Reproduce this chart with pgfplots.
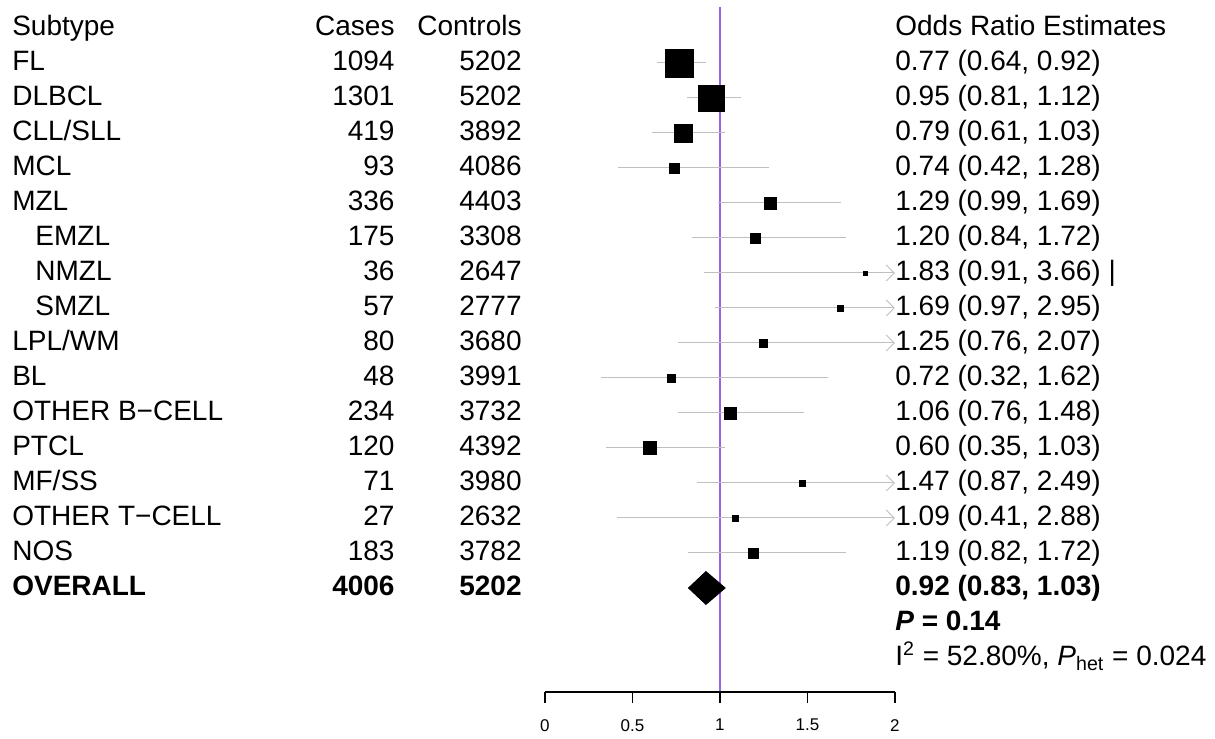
\documentclass[border=0pt]{standalone}
\usepackage{pgfplots}
\pgfplotsset{compat=1.18}
\usetikzlibrary{arrows.meta}
\usepackage{fontspec}
\setmainfont{Liberation Sans}
\definecolor{refl}{RGB}{150,100,230}
\begin{document}
\begin{tikzpicture}
\begin{axis}[x=87.5pt,y=17.5pt,xmin=-3.114,xmax=3.829,ymin=-20.09,ymax=0.8,
  hide axis,clip=false]
\path (axis cs:-3.114,-20.09) rectangle (axis cs:3.829,0.8);
% vertical reference line
\addplot[color=refl,line width=0.6pt] coordinates {(1,0.6) (1,-18.97)};
% CI lines
\pgfplotsset{ci/.style={gray!50,line width=0.5pt},cia/.style={ci,-{Straight Barb[length=4pt]}}}
\addplot[ci] coordinates {(0.64,-1) (0.92,-1)};
\addplot[ci] coordinates {(0.81,-2) (1.12,-2)};
\addplot[ci] coordinates {(0.61,-3) (1.03,-3)};
\addplot[ci] coordinates {(0.42,-4) (1.28,-4)};
\addplot[ci] coordinates {(0.99,-5) (1.69,-5)};
\addplot[ci] coordinates {(0.84,-6) (1.72,-6)};
\addplot[cia] coordinates {(0.91,-7) (2,-7)};
\addplot[cia] coordinates {(0.97,-8) (2,-8)};
\addplot[cia] coordinates {(0.76,-9) (2,-9)};
\addplot[ci] coordinates {(0.32,-10) (1.62,-10)};
\addplot[ci] coordinates {(0.76,-11) (1.48,-11)};
\addplot[ci] coordinates {(0.35,-12) (1.03,-12)};
\addplot[cia] coordinates {(0.87,-13) (2,-13)};
\addplot[cia] coordinates {(0.41,-14) (2,-14)};
\addplot[ci] coordinates {(0.82,-15) (1.72,-15)};
% squares
\pgfplotsset{sq/.style={only marks,mark=square*,black,mark size=#1}}
\addplot[sq=7pt] coordinates {(0.77,-1)};
\addplot[sq=6.5pt] coordinates {(0.95,-2)};
\addplot[sq=4.5pt] coordinates {(0.79,-3)};
\addplot[sq=2.5pt] coordinates {(0.74,-4)};
\addplot[sq=3pt] coordinates {(1.29,-5)};
\addplot[sq=2.5pt] coordinates {(1.20,-6)};
\addplot[sq=1pt] coordinates {(1.83,-7)};
\addplot[sq=1.5pt] coordinates {(1.69,-8)};
\addplot[sq=2pt] coordinates {(1.25,-9)};
\addplot[sq=2pt] coordinates {(0.72,-10)};
\addplot[sq=3pt] coordinates {(1.06,-11)};
\addplot[sq=3.3pt] coordinates {(0.60,-12)};
\addplot[sq=1.5pt] coordinates {(1.47,-13)};
\addplot[sq=1.5pt] coordinates {(1.09,-14)};
\addplot[sq=2.5pt] coordinates {(1.19,-15)};
% diamond
\addplot[fill=black,draw=black] coordinates {(0.82,-16) (0.92,-15.53) (1.03,-16) (0.92,-16.47) (0.82,-16)};
% x axis
\addplot[black,line width=0.6pt] coordinates {(0,-18.97) (2,-18.97)};
\pgfplotsinvokeforeach{0,0.5,1,1.5,2}{
  \draw[black,line width=0.6pt] (axis cs:#1,-18.97) -- (axis cs:#1,-19.3);
  \node[anchor=north,font=\fontsize{8.5}{10}\selectfont] at (axis cs:#1,-19.55) {#1};
}
% text
\tikzset{tx/.style={inner sep=0pt,font=\fontsize{14}{17}\selectfont}}
\def\rowtxt#1#2#3#4#5#6{%
 \node[tx,anchor=base west] at (axis cs:#6,#1-0.22) {#2};
 \node[tx,anchor=base east] at (axis cs:-0.857,#1-0.22) {#3};
 \node[tx,anchor=base east] at (axis cs:-0.131,#1-0.22) {#4};
 \node[tx,anchor=base west] at (axis cs:2.0,#1-0.22) {#5};}
\rowtxt{0}{Subtype}{Cases}{Controls}{Odds Ratio Estimates}{-3.046}
\rowtxt{-1}{FL}{1094}{5202}{0.77 (0.64, 0.92)}{-3.046}
\rowtxt{-2}{DLBCL}{1301}{5202}{0.95 (0.81, 1.12)}{-3.046}
\rowtxt{-3}{CLL/SLL}{419}{3892}{0.79 (0.61, 1.03)}{-3.046}
\rowtxt{-4}{MCL}{93}{4086}{0.74 (0.42, 1.28)}{-3.046}
\rowtxt{-5}{MZL}{336}{4403}{1.29 (0.99, 1.69)}{-3.046}
\rowtxt{-6}{EMZL}{175}{3308}{1.20 (0.84, 1.72)}{-2.914}
\rowtxt{-7}{NMZL}{36}{2647}{1.83 (0.91, 3.66) |}{-2.914}
\rowtxt{-8}{SMZL}{57}{2777}{1.69 (0.97, 2.95)}{-2.914}
\rowtxt{-9}{LPL/WM}{80}{3680}{1.25 (0.76, 2.07)}{-3.046}
\rowtxt{-10}{BL}{48}{3991}{0.72 (0.32, 1.62)}{-3.046}
\rowtxt{-11}{OTHER B\textminus CELL}{234}{3732}{1.06 (0.76, 1.48)}{-3.046}
\rowtxt{-12}{PTCL}{120}{4392}{0.60 (0.35, 1.03)}{-3.046}
\rowtxt{-13}{MF/SS}{71}{3980}{1.47 (0.87, 2.49)}{-3.046}
\rowtxt{-14}{OTHER T\textminus CELL}{27}{2632}{1.09 (0.41, 2.88)}{-3.046}
\rowtxt{-15}{NOS}{183}{3782}{1.19 (0.82, 1.72)}{-3.046}
\rowtxt{-16}{\textbf{OVERALL}}{\textbf{4006}}{\textbf{5202}}{\textbf{0.92 (0.83, 1.03)}}{-3.046}
\node[tx,anchor=base west] at (axis cs:2.0,-17.22) {\textbf{\textit{P} = 0.14}};
\node[tx,anchor=base west] at (axis cs:2.0,-18.22) {I\textsuperscript{2} = 52.80\%, \textit{P}\textsubscript{het} = 0.024};
\end{axis}
\end{tikzpicture}
\end{document}
